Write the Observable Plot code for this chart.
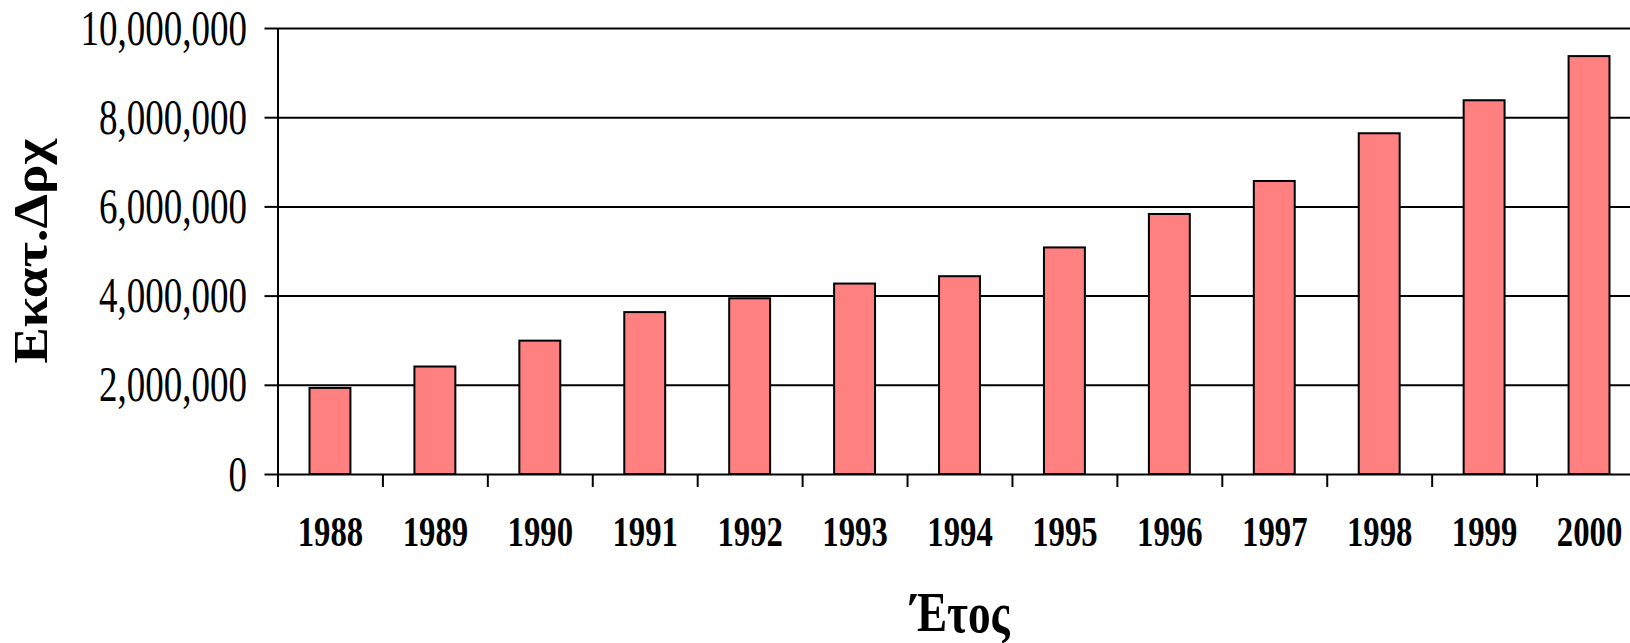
<!DOCTYPE html>
<html><head><meta charset="utf-8">
<script src="https://cdn.jsdelivr.net/npm/d3@7"></script>
<script src="https://cdn.jsdelivr.net/npm/@observablehq/plot@0.6"></script>
<style>html,body{margin:0;padding:0;background:#fff}</style>
</head><body><div id="chart"></div>
<script>
const years = ["1988","1989","1990","1991","1992","1993","1994","1995","1996","1997","1998","1999","2000"];
const values = [1930000, 2410000, 2990000, 3630000, 3940000, 4270000, 4435000, 5080000, 5830000, 6570000, 7640000, 8380000, 9370000];
const yTicks = [0, 2000000, 4000000, 6000000, 8000000, 10000000];
const yTitle = "Εκατ.Δρχ";
const xTitle = "Έτος";

const data = years.map((year, i) => ({year, value: values[i]}));
const W = 1630, H = 643;
const xRange = [277.5, 1641.5];
const step = (xRange[1] - xRange[0]) / years.length;
const fmt = d3.format(",");

const chart = Plot.plot({
  width: W, height: H,
  marginLeft: 277.5, marginTop: 28, marginBottom: 169, marginRight: 0,
  style: {fontFamily: '"Liberation Serif", "Times New Roman", serif', background: "#fff", color: "#000", overflow: "visible"},
  x: {domain: years, range: xRange, round: false, paddingInner: 0.61, paddingOuter: 0.305, label: null},
  y: {domain: [0, 10000000], label: null},
  marks: [
    Plot.ruleY(yTicks, {stroke: "#000", strokeWidth: 2}),
    Plot.barY(data, {x: "year", y: "value", fill: "#FF8080", stroke: "#000", strokeWidth: 2}),
    Plot.ruleX([years[0]], {dx: -step / 2, y1: 0, y2: 10000000, stroke: "#000", strokeWidth: 2}),
    Plot.axisY({ticks: yTicks, tickSize: 13, tickPadding: 18, tickFormat: fmt, fontSize: 50, strokeWidth: 2, label: null}),
    Plot.axisX({tickSize: 13, tickFormat: () => "", dx: -step / 2, strokeWidth: 2, label: null}),
    Plot.axisX({tickSize: 0, tickPadding: 42, fontSize: 42, fontWeight: "bold", label: null}),
    Plot.text([yTitle], {text: d => d, frameAnchor: "left", textAnchor: "middle", dx: -246, rotate: -90, fontSize: 55, fontWeight: "bold"}),
    Plot.text([xTitle], {text: d => d, frameAnchor: "bottom", textAnchor: "middle", dx: 6, dy: 157, fontSize: 58, fontWeight: "bold"})
  ]
});
document.getElementById("chart").append(chart);
chart.querySelectorAll("text").forEach(t => {
  const tr = t.getAttribute("transform") || "";
  if (tr.includes("rotate")) {
    t.setAttribute("transform", tr.replace("rotate(", "scale(0.88,1) rotate("));
    return;
  }
  const L = t.getComputedTextLength();
  if (L > 0) {
    const fs = parseFloat(getComputedStyle(t).fontSize);
    const k = fs >= 55 ? 0.78 : fs >= 50 ? 0.74 : 0.78;
    t.setAttribute("textLength", (L * k).toFixed(1));
    t.setAttribute("lengthAdjust", "spacingAndGlyphs");
  }
});
</script>
</body></html>
